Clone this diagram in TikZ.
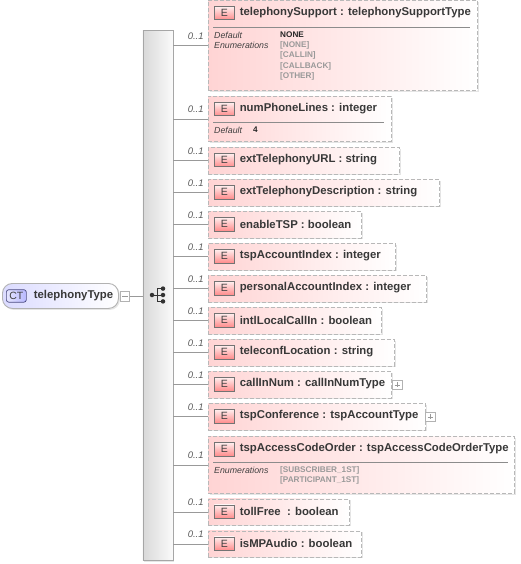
\documentclass[tikz,border=0pt]{standalone}
\usepackage{fontspec}
\setmainfont{Liberation Sans}
\usetikzlibrary{positioning,shadows,calc}
\definecolor{boxedge}{gray}{0.72}
\definecolor{elempink}{RGB}{255,212,212}
\definecolor{titlegray}{gray}{0.22}
\definecolor{enumgray}{gray}{0.6}
\tikzset{
  softshadow/.style={drop shadow={shadow xshift=1.5pt, shadow yshift=-1.5pt, fill=black!20, opacity=.5}},
  elembox/.style={draw=boxedge, line width=0.9pt, dash pattern=on 4pt off 2pt, left color=elempink, right color=white, softshadow, anchor=north west, inner sep=0pt},
  eicon/.style={draw=black!55, line width=0.6pt, top color=red!6, bottom color=red!45, minimum width=20pt, minimum height=13.5pt, inner sep=0pt, anchor=north west, font=\fontsize{10.5}{10.5}\selectfont, text=black!75},
  elemtitle/.style={font=\fontsize{11.35}{11.35}\bfseries\selectfont, text=titlegray, inner sep=0pt, anchor=west},
  facetname/.style={font=\fontsize{8.8}{8.8}\itshape\selectfont, text=black!75, inner sep=0pt, anchor=west},
  facetvalue/.style={font=\fontsize{8.2}{8.2}\bfseries\selectfont, text=black!85, inner sep=0pt, anchor=west},
  enumvalue/.style={facetvalue, text=enumgray},
  occur/.style={font=\fontsize{9.5}{9.5}\itshape\selectfont, text=black!65, inner sep=0pt, anchor=south east},
  link/.style={draw=black!40, line width=0.7pt},
  seqdot/.style={circle, fill=black!80, minimum size=4.5pt, inner sep=0pt},
  expander/.style={draw=black!30, fill=white, minimum size=9.5pt, inner sep=0pt},
  minussign/.style={expander, path picture={\draw[black!40] ([xshift=2pt]path picture bounding box.west) -- ([xshift=-2pt]path picture bounding box.east);}},
  plussign/.style={expander, path picture={\draw[black!40] ([xshift=2pt]path picture bounding box.west) -- ([xshift=-2pt]path picture bounding box.east) ([yshift=-2pt]path picture bounding box.north) -- ([yshift=2pt]path picture bounding box.south);}},
}
\begin{document}
\begin{tikzpicture}[x=1pt, y=-1pt]
  \useasboundingbox (0,0) rectangle (520,564);
  % Sequence bar
  \node[draw=black!35, line width=0.7pt, left color=black!15, right color=black!2, softshadow, minimum width=30pt, minimum height=530pt, inner sep=0pt, anchor=north west] (seqbar) at (142.5,30) {};
  % Complex type
  \node[draw=black!30, line width=0.9pt, rounded corners=10pt, left color=blue!14, right color=white, softshadow, minimum width=116pt, minimum height=25pt, inner sep=0pt, anchor=north west] (ctbox) at (2,283) {};
  \node[draw=blue!30!black!70, line width=0.7pt, rounded corners=2.5pt, left color=blue!10, right color=blue!28, minimum width=20pt, minimum height=12.5pt, inner sep=0pt, anchor=west, font=\fontsize{10.5}{10.5}\selectfont, text=black!75] (cticon) at ([xshift=4pt]ctbox.west) {CT};
  \node[elemtitle, right=7pt of cticon] (cttitle) {telephonyType};
  \node[minussign, anchor=west] (ctminus) at ([xshift=1pt]ctbox.east) {};
  \draw[link] (ctminus) -- (ctminus -| seqbar.west);
  % Sequence symbol
  \node[seqdot] (seqin) at (152,295) {};
  \node[seqdot] (seqmid) at (163,295) {};
  \node[seqdot, above=1.5pt of seqmid] (seqtop) {};
  \node[seqdot, below=1.5pt of seqmid] (seqbot) {};
  \draw[black!80, line width=0.9pt] (seqin) -- (seqmid) (seqtop.center) -- ++(-6,0) |- (seqbot.center);
  % Elements
  \foreach \elemname/\elemtop/\elemwidth/\elemheight/\elemtext in {
      telephonySupport/0/269/90/{telephonySupport : telephonySupportType},
      numPhoneLines/96/183/45/{numPhoneLines : integer},
      extTelephonyURL/147/191/26.5/{extTelephonyURL : string},
      extTelephonyDescription/179/231/26.5/{extTelephonyDescription : string},
      enableTSP/211/153/26.5/{enableTSP : boolean},
      tspAccountIndex/243/187/26.5/{tspAccountIndex : integer},
      personalAccountIndex/275/218/26.5/{personalAccountIndex : integer},
      intlLocalCallIn/307/173/26.5/{intlLocalCallIn : boolean},
      teleconfLocation/339/186/26.5/{teleconfLocation : string},
      callInNum/371/183/26.5/{callInNum : callInNumType},
      tspConference/403/217/26.5/{tspConference : tspAccountType},
      tspAccessCodeOrder/436/306/57/{tspAccessCodeOrder : tspAccessCodeOrderType},
      tollFree/498.5/141/26/{tollFree\ \ : boolean},
      isMPAudio/530.5/153/26/{isMPAudio : boolean}} {
    \node[elembox, minimum width=\elemwidth pt, minimum height=\elemheight pt] (\elemname) at (208,\elemtop) {};
    \node[eicon] (\elemname E) at ([shift={(6,6)}]\elemname.north west) {E};
    \node[elemtitle, right=5pt of \elemname E] (\elemname T) {\elemtext};
    \draw[link] (\elemname.west -| seqbar.east) -- (\elemname.west)
      node[occur, pos=1, xshift=-4pt, yshift=6pt] (\elemname O) {0..1};
  }
  % Facets of telephonySupport
  \draw[black!45, line width=0.6pt] (213,27.5) -- (470,27.5);
  \node[facetname] (supportdefault) at (214,35) {Default};
  \node[facetvalue] (supportnone) at (280,35) {NONE};
  \node[facetname] (supportenum) at (214,45) {Enumerations};
  \node[enumvalue] (enumnone) at (280,45) {[NONE]};
  \node[enumvalue, below=2.5pt of enumnone.south west, anchor=north west] (enumcallin) {[CALLIN]};
  \node[enumvalue, below=2.5pt of enumcallin.south west, anchor=north west] (enumcallback) {[CALLBACK]};
  \node[enumvalue, below=2.5pt of enumcallback.south west, anchor=north west] (enumother) {[OTHER]};
  % Facets of numPhoneLines
  \draw[black!45, line width=0.6pt] (213,122.5) -- (384,122.5);
  \node[facetname] (linesdefault) at (214,130) {Default};
  \node[facetvalue] (linesfour) at (253,130) {4};
  % Facets of tspAccessCodeOrder
  \draw[black!45, line width=0.6pt] (213,462.5) -- (508,462.5);
  \node[facetname] (orderenum) at (214,470) {Enumerations};
  \node[enumvalue] (ordersub) at (280,470) {[SUBSCRIBER\_1ST]};
  \node[enumvalue, below=2pt of ordersub.south west, anchor=north west] (orderpart) {[PARTICIPANT\_1ST]};
  % Expanders
  \node[plussign, anchor=west] (callinplus) at ([xshift=0.5pt]callInNum.east) {};
  \node[plussign, anchor=west] (confplus) at ([xshift=-0.5pt]tspConference.east) {};
\end{tikzpicture}
\end{document}
